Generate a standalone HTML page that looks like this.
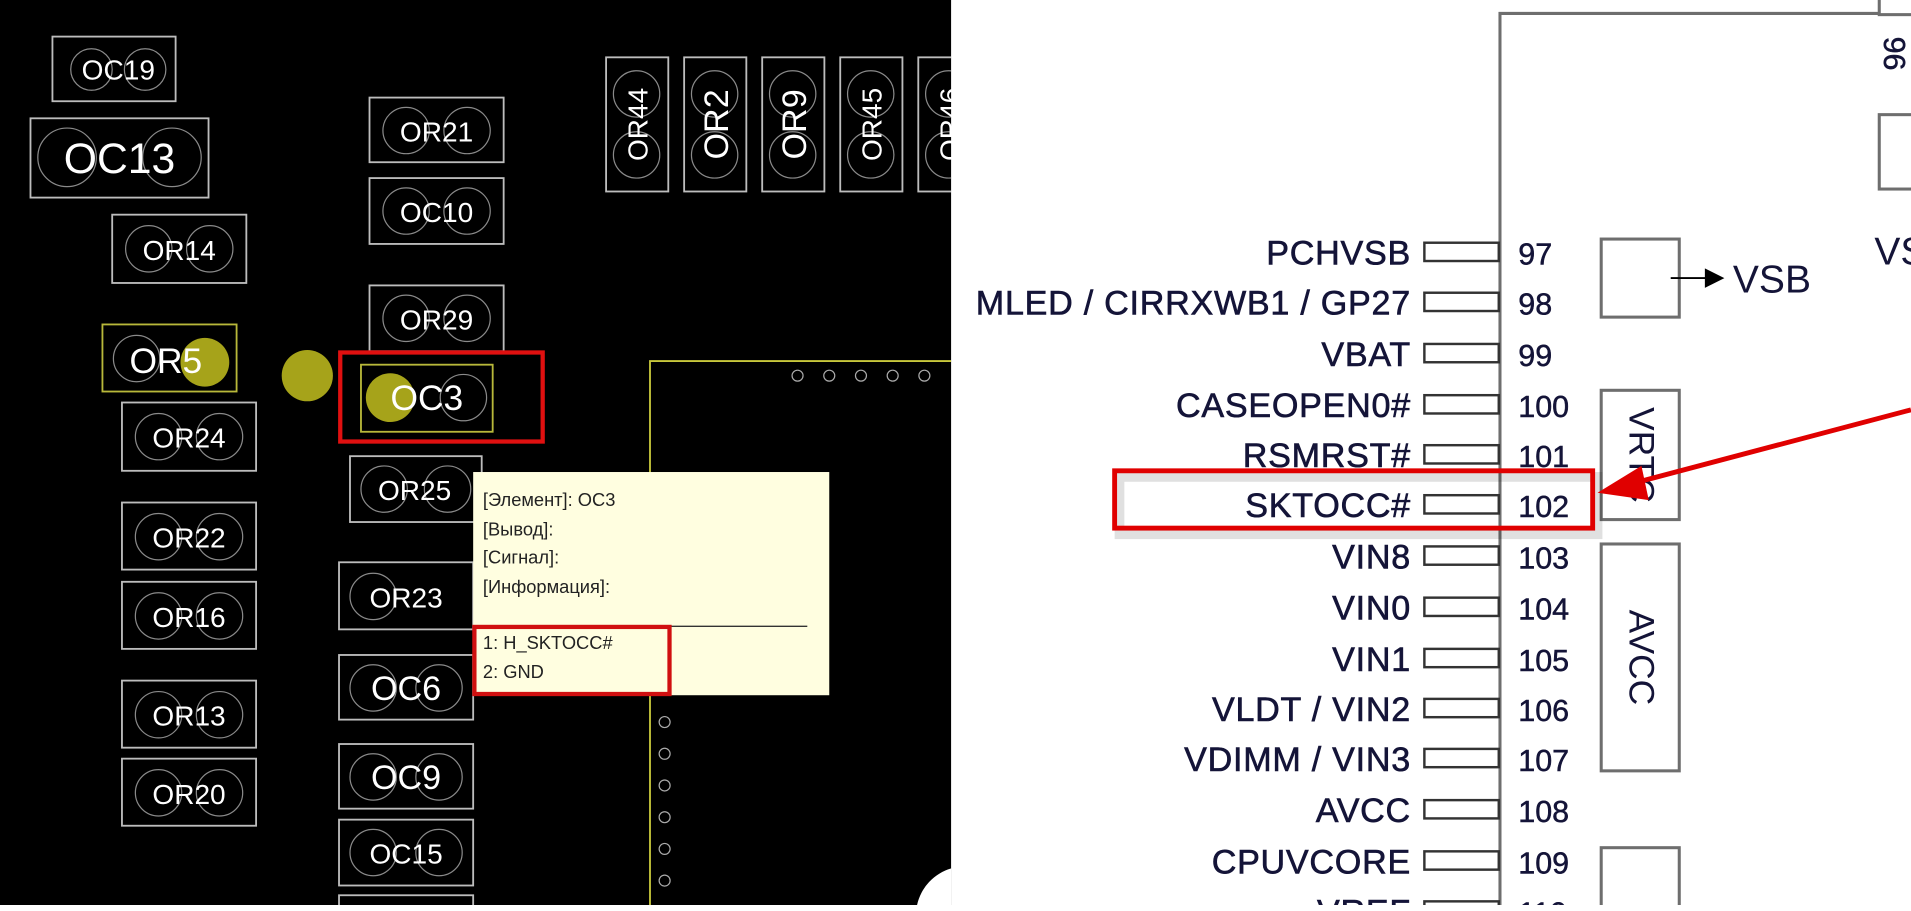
<!DOCTYPE html>
<html><head><meta charset="utf-8"><style>
html,body{margin:0;padding:0;width:1911px;height:905px;overflow:hidden;background:#fff}
#c{position:absolute;left:0;top:0;width:1567px;height:742px;transform:scale(1.2195,1.2197);transform-origin:0 0;font-family:"Liberation Sans",sans-serif}
</style></head><body>
<div id="c">
<svg width="1567" height="742" viewBox="0 0 1567 742" xmlns="http://www.w3.org/2000/svg" font-family="Liberation Sans, DejaVu Sans, sans-serif">
<rect x="0" y="0" width="780" height="742" fill="#000"/>
<g fill="none" stroke="#bdbdbd" stroke-width="1.5">
<rect x="43" y="30" width="101" height="53"/>
<rect x="25" y="97" width="146" height="65"/>
<rect x="92" y="176" width="110" height="56"/>
<rect x="303" y="80" width="110" height="53"/>
<rect x="303" y="146" width="110" height="54"/>
<rect x="303" y="234" width="110" height="54"/>
<rect x="100" y="330" width="110" height="56"/>
<rect x="287" y="374" width="108" height="54"/>
<rect x="100" y="412" width="110" height="55"/>
<rect x="100" y="477" width="110" height="55"/>
<rect x="100" y="558" width="110" height="55"/>
<rect x="100" y="622" width="110" height="55"/>
<rect x="278" y="461" width="110" height="55"/>
<rect x="278" y="537" width="110" height="53"/>
<rect x="278" y="610" width="110" height="53"/>
<rect x="278" y="672" width="110" height="54"/>
<rect x="278" y="734" width="110" height="20"/>
<rect x="497" y="47" width="51" height="110"/>
<rect x="561" y="47" width="51" height="110"/>
<rect x="625" y="47" width="51" height="110"/>
<rect x="689" y="47" width="51" height="110"/>
<rect x="753" y="47" width="51" height="110"/>
</g>
<g fill="none" stroke="#8a8a8a" stroke-width="1">
<circle cx="75" cy="57" r="17"/><circle cx="119" cy="57" r="17"/>
<circle cx="55" cy="129" r="24"/><circle cx="141" cy="129" r="24"/>
<circle cx="122" cy="204" r="19"/><circle cx="172" cy="204" r="19"/>
<circle cx="333" cy="107" r="19"/><circle cx="383" cy="107" r="19"/>
<circle cx="333" cy="173" r="19"/><circle cx="383" cy="173" r="19"/>
<circle cx="333" cy="261" r="19"/><circle cx="383" cy="261" r="19"/>
<circle cx="112" cy="294" r="19"/><circle cx="130" cy="358" r="19"/><circle cx="180" cy="358" r="19"/>
<circle cx="315" cy="401" r="19"/><circle cx="367" cy="401" r="19"/>
<circle cx="130" cy="440" r="19"/><circle cx="180" cy="440" r="19"/>
<circle cx="130" cy="505" r="19"/><circle cx="180" cy="505" r="19"/>
<circle cx="130" cy="586" r="19"/><circle cx="180" cy="586" r="19"/>
<circle cx="130" cy="650" r="19"/><circle cx="180" cy="650" r="19"/>
<circle cx="306" cy="489" r="19"/><circle cx="306" cy="564" r="19"/><circle cx="360" cy="564" r="19"/>
<circle cx="306" cy="637" r="19"/><circle cx="360" cy="637" r="19"/>
<circle cx="306" cy="699" r="19"/><circle cx="360" cy="699" r="19"/>
<circle cx="380" cy="326" r="19"/>
<circle cx="522" cy="77" r="19"/><circle cx="522" cy="127" r="19"/>
<circle cx="586" cy="77" r="19"/><circle cx="586" cy="127" r="19"/>
<circle cx="650" cy="77" r="19"/><circle cx="650" cy="127" r="19"/>
<circle cx="714" cy="77" r="19"/><circle cx="714" cy="127" r="19"/>
<circle cx="778" cy="77" r="19"/><circle cx="778" cy="127" r="19"/>
</g>
<g fill="#fff" font-size="23" text-anchor="middle">
<text x="97" y="65">OC19</text>
<text x="98" y="142" font-size="35">OC13</text>
<text x="147" y="213">OR14</text>
<text x="358" y="116">OR21</text>
<text x="358" y="182">OC10</text>
<text x="358" y="270">OR29</text>
<text x="155" y="367">OR24</text>
<text x="340" y="410">OR25</text>
<text x="155" y="449">OR22</text>
<text x="155" y="514">OR16</text>
<text x="155" y="595">OR13</text>
<text x="155" y="659">OR20</text>
<text x="333" y="498">OR23</text>
<text x="333" y="574" font-size="28">OC6</text>
<text x="333" y="647" font-size="28">OC9</text>
<text x="333" y="708">OC15</text>
<text transform="translate(531,102) rotate(-90)" font-size="23">OR44</text>
<text transform="translate(597,102) rotate(-90)" font-size="28">OR2</text>
<text transform="translate(661,102) rotate(-90)" font-size="28">OR9</text>
<text transform="translate(723,102) rotate(-90)" font-size="23">OR45</text>
<text transform="translate(787,102) rotate(-90)" font-size="23">OR46</text>
</g>
<path d="M533 742 V296 H780" fill="none" stroke="#c8c83c" stroke-width="1.5"/>
<g fill="none" stroke="#aaa" stroke-width="1">
<circle cx="654" cy="308" r="4.5"/><circle cx="680" cy="308" r="4.5"/><circle cx="706" cy="308" r="4.5"/><circle cx="732" cy="308" r="4.5"/><circle cx="758" cy="308" r="4.5"/>
<circle cx="545" cy="592" r="4.5"/><circle cx="545" cy="618" r="4.5"/><circle cx="545" cy="644" r="4.5"/><circle cx="545" cy="670" r="4.5"/><circle cx="545" cy="696" r="4.5"/><circle cx="545" cy="722" r="4.5"/>
</g>
<path d="M780 712 A40 40 0 0 0 752 742 L780 742 Z" fill="#fff"/>
<rect x="84" y="266" width="110" height="55" fill="none" stroke="#b8b83a" stroke-width="1.5"/>
<circle cx="168" cy="297" r="20" fill="#a6a31a"/>
<text x="136" y="306" fill="#fff" font-size="29" text-anchor="middle">OR5</text>
<circle cx="252" cy="308" r="21" fill="#a6a31a"/>
<rect x="296" y="299" width="108" height="55" fill="none" stroke="#b8b83a" stroke-width="1.5"/>
<circle cx="320" cy="326" r="20" fill="#a6a31a"/>
<text x="350" y="336" fill="#fff" font-size="29" text-anchor="middle">OC3</text>
<rect x="279" y="289" width="166" height="73" fill="none" stroke="#e01010" stroke-width="3.5"/>
<rect x="388" y="387" width="292" height="183" fill="#fffee0"/>
<g fill="#222" font-size="15">
<text x="396" y="415">[Элемент]: OC3</text>
<text x="396" y="439">[Вывод]:</text>
<text x="396" y="462">[Сигнал]:</text>
<text x="396" y="486">[Информация]:</text>
<text x="396" y="532">1: H_SKTOCC#</text>
<text x="396" y="556">2: GND</text>
</g>
<line x1="392" y1="513.5" x2="662" y2="513.5" stroke="#333" stroke-width="1.2"/>
<rect x="389" y="514" width="160" height="55" fill="none" stroke="#d01010" stroke-width="3.5"/>
<!-- right panel -->
<rect x="780" y="0" width="787" height="742" fill="#fff"/>
<g fill="none" stroke="#6e6e6e" stroke-width="2.5">
<path d="M1230 742 V11 H1542"/>
<rect x="1541" y="-4" width="30" height="16"/>
<rect x="1541" y="94" width="30" height="61"/>
<rect x="1313" y="196" width="64" height="64"/>
<rect x="1313" y="320" width="64" height="106"/>
<rect x="1313" y="446" width="64" height="186"/>
<rect x="1313" y="695" width="64" height="60"/>
</g>
<g fill="none" stroke="#333" stroke-width="2">
<rect x="1168" y="199" width="61" height="15"/><rect x="1168" y="240" width="61" height="15"/>
<rect x="1168" y="282" width="61" height="15"/><rect x="1168" y="324" width="61" height="15"/>
<rect x="1168" y="365" width="61" height="15"/><rect x="1168" y="406" width="61" height="15"/>
<rect x="1168" y="448" width="61" height="15"/><rect x="1168" y="490" width="61" height="15"/>
<rect x="1168" y="532" width="61" height="15"/><rect x="1168" y="573" width="61" height="15"/>
<rect x="1168" y="614" width="61" height="15"/><rect x="1168" y="656" width="61" height="15"/>
<rect x="1168" y="698" width="61" height="15"/><rect x="1168" y="739" width="61" height="15"/>
</g>
<g fill="#141438" stroke="#141438" stroke-width="0.5" font-size="28" text-anchor="end" letter-spacing="0.6">
<text x="1157" y="217">PCHVSB</text>
<text x="1157" y="258">MLED / CIRRXWB1 / GP27</text>
<text x="1157" y="300">VBAT</text>
<text x="1157" y="342">CASEOPEN0#</text>
<text x="1157" y="383">RSMRST#</text>
<text x="1157" y="424">SKTOCC#</text>
<text x="1157" y="466">VIN8</text>
<text x="1157" y="508">VIN0</text>
<text x="1157" y="550">VIN1</text>
<text x="1157" y="591">VLDT / VIN2</text>
<text x="1157" y="632">VDIMM / VIN3</text>
<text x="1157" y="674">AVCC</text>
<text x="1157" y="716">CPUVCORE</text>
<text x="1157" y="757">VREF</text>
</g>
<g fill="#141438" stroke="#141438" stroke-width="0.4" font-size="25">
<text x="1245" y="217">97</text><text x="1245" y="258">98</text><text x="1245" y="300">99</text>
<text x="1245" y="342">100</text><text x="1245" y="383">101</text><text x="1245" y="424">102</text>
<text x="1245" y="466">103</text><text x="1245" y="508">104</text><text x="1245" y="550">105</text>
<text x="1245" y="591">106</text><text x="1245" y="632">107</text><text x="1245" y="674">108</text>
<text x="1245" y="716">109</text><text x="1245" y="757">110</text>
<text transform="translate(1545,30) rotate(90)">96</text>
</g>
<line x1="1370" y1="228" x2="1400" y2="228" stroke="#000" stroke-width="1.5"/>
<polygon points="1398,220 1414,228 1398,236" fill="#000"/>
<text x="1421" y="240" fill="#141438" font-size="32">VSB</text>
<text x="1537" y="217" fill="#141438" font-size="32">VS</text>
<g fill="#141438" font-size="29">
<text transform="translate(1336,373) rotate(90)" text-anchor="middle">VRTC</text>
<text transform="translate(1336,539) rotate(90)" text-anchor="middle">AVCC</text>
</g>
<rect x="918" y="391" width="392" height="47" fill="none" stroke="#000" stroke-opacity="0.12" stroke-width="8"/>
<rect x="914" y="386" width="392" height="47" fill="none" stroke="#e00000" stroke-width="4"/>
<line x1="1567" y1="336" x2="1340" y2="396" stroke="#e00000" stroke-width="4"/>
<polygon points="1310,404 1346,382 1352,410" fill="#e00000"/>
</svg>
</div>
</body></html>
